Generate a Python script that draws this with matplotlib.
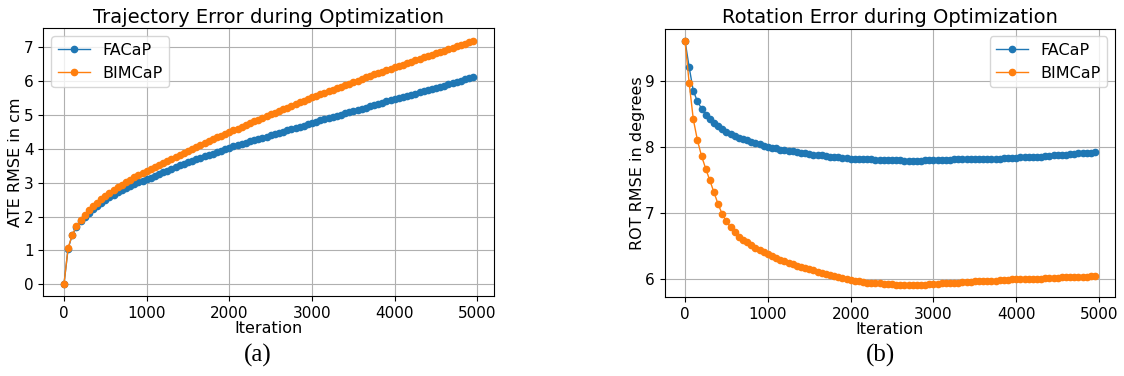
import numpy as np
import matplotlib
matplotlib.use("Agg")
import matplotlib.pyplot as plt
from matplotlib.ticker import MultipleLocator

# iteration axis: one sample every 50 iterations
iterations = np.arange(0, 5000, 50)

# ATE RMSE in cm
ate_facap = [
    0.00, 1.05, 1.45, 1.68, 1.87, 2.00, 2.11, 2.22, 2.32, 2.41,
    2.50, 2.58, 2.65, 2.72, 2.79, 2.85, 2.91, 2.96, 3.01, 3.06,
    3.10, 3.15, 3.21, 3.26, 3.31, 3.36, 3.41, 3.46, 3.51, 3.55,
    3.60, 3.64, 3.69, 3.73, 3.78, 3.82, 3.86, 3.91, 3.95, 3.99,
    4.03, 4.07, 4.11, 4.14, 4.18, 4.22, 4.25, 4.29, 4.33, 4.36,
    4.40, 4.44, 4.47, 4.51, 4.55, 4.58, 4.62, 4.66, 4.69, 4.73,
    4.77, 4.80, 4.84, 4.87, 4.91, 4.94, 4.98, 5.01, 5.05, 5.08,
    5.12, 5.15, 5.19, 5.22, 5.26, 5.29, 5.33, 5.36, 5.40, 5.43,
    5.47, 5.50, 5.53, 5.57, 5.60, 5.63, 5.67, 5.70, 5.73, 5.77,
    5.80, 5.84, 5.87, 5.91, 5.94, 5.98, 6.01, 6.05, 6.08, 6.12,
]
ate_bimcap = [
    0.00, 1.07, 1.46, 1.71, 1.90, 2.05, 2.18, 2.30, 2.41, 2.52,
    2.62, 2.71, 2.79, 2.87, 2.94, 3.02, 3.09, 3.16, 3.22, 3.29,
    3.35, 3.41, 3.47, 3.53, 3.59, 3.65, 3.71, 3.77, 3.83, 3.89,
    3.95, 4.01, 4.06, 4.12, 4.17, 4.23, 4.28, 4.34, 4.39, 4.45,
    4.50, 4.55, 4.60, 4.66, 4.71, 4.76, 4.81, 4.86, 4.92, 4.97,
    5.02, 5.07, 5.12, 5.17, 5.22, 5.27, 5.32, 5.37, 5.42, 5.47,
    5.52, 5.57, 5.61, 5.66, 5.70, 5.75, 5.80, 5.84, 5.89, 5.93,
    5.98, 6.02, 6.07, 6.11, 6.15, 6.20, 6.24, 6.28, 6.32, 6.37,
    6.41, 6.45, 6.49, 6.53, 6.57, 6.62, 6.66, 6.70, 6.74, 6.78,
    6.82, 6.86, 6.90, 6.95, 6.99, 7.03, 7.07, 7.11, 7.16, 7.20,
]

# rotation RMSE in degrees
rot_facap = [
    9.61, 9.21, 8.85, 8.69, 8.58, 8.49, 8.42, 8.36, 8.31, 8.27,
    8.23, 8.20, 8.17, 8.14, 8.12, 8.10, 8.08, 8.06, 8.04, 8.02,
    8.00, 7.99, 7.98, 7.96, 7.95, 7.94, 7.93, 7.92, 7.91, 7.90,
    7.89, 7.88, 7.87, 7.87, 7.86, 7.85, 7.85, 7.84, 7.83, 7.83,
    7.82, 7.82, 7.81, 7.81, 7.81, 7.81, 7.80, 7.80, 7.80, 7.80,
    7.80, 7.80, 7.80, 7.79, 7.79, 7.79, 7.79, 7.79, 7.80, 7.80,
    7.80, 7.80, 7.80, 7.80, 7.80, 7.81, 7.81, 7.81, 7.81, 7.81,
    7.81, 7.81, 7.82, 7.82, 7.82, 7.82, 7.82, 7.83, 7.83, 7.83,
    7.83, 7.84, 7.84, 7.84, 7.85, 7.85, 7.85, 7.86, 7.86, 7.87,
    7.87, 7.88, 7.88, 7.89, 7.89, 7.90, 7.90, 7.91, 7.91, 7.92,
]
rot_bimcap = [
    9.61, 8.97, 8.42, 8.10, 7.86, 7.67, 7.49, 7.31, 7.13, 6.98,
    6.87, 6.78, 6.71, 6.64, 6.59, 6.55, 6.51, 6.47, 6.44, 6.40,
    6.37, 6.34, 6.32, 6.29, 6.27, 6.24, 6.22, 6.20, 6.18, 6.17,
    6.15, 6.13, 6.11, 6.09, 6.07, 6.05, 6.04, 6.02, 6.01, 5.99,
    5.98, 5.97, 5.96, 5.95, 5.94, 5.94, 5.93, 5.93, 5.92, 5.92,
    5.92, 5.91, 5.91, 5.91, 5.91, 5.91, 5.91, 5.91, 5.91, 5.92,
    5.92, 5.92, 5.93, 5.93, 5.93, 5.94, 5.94, 5.95, 5.95, 5.95,
    5.96, 5.96, 5.96, 5.97, 5.97, 5.97, 5.98, 5.98, 5.98, 5.99,
    5.99, 5.99, 6.00, 6.00, 6.00, 6.00, 6.00, 6.01, 6.01, 6.01,
    6.01, 6.02, 6.02, 6.02, 6.03, 6.03, 6.03, 6.03, 6.04, 6.04,
]

TICK_FS = 11
LABEL_FS = 11.5
TITLE_FS = 14
MS = 4.5

fig = plt.figure(figsize=(11.24, 3.76), dpi=100)
ax1 = fig.add_axes([0.0387, 0.2117, 0.4006, 0.7128])
ax2 = fig.add_axes([0.5912, 0.2104, 0.4012, 0.7138])

# (a) trajectory error
ax1.plot(iterations, ate_facap, marker='o', markersize=MS, linewidth=1, label='FACaP')
ax1.plot(iterations, ate_bimcap, marker='o', markersize=MS, linewidth=1, label='BIMCaP')
ax1.set_title('Trajectory Error during Optimization', fontsize=TITLE_FS, pad=4)
ax1.set_xlabel('Iteration', fontsize=LABEL_FS, labelpad=0)
ax1.set_ylabel('ATE RMSE in cm', fontsize=LABEL_FS, labelpad=0.5)
ax1.yaxis.set_major_locator(MultipleLocator(1))
ax1.legend(loc='upper left', fontsize=LABEL_FS)
ax1.grid(True)
ax1.tick_params(labelsize=TICK_FS)

# (b) rotation error
ax2.plot(iterations, rot_facap, marker='o', markersize=MS, linewidth=1, label='FACaP')
ax2.plot(iterations, rot_bimcap, marker='o', markersize=MS, linewidth=1, label='BIMCaP')
ax2.set_title('Rotation Error during Optimization', fontsize=TITLE_FS, pad=4)
ax2.set_xlabel('Iteration', fontsize=LABEL_FS, labelpad=0)
ax2.set_ylabel('ROT RMSE in degrees', fontsize=LABEL_FS, labelpad=0)
ax2.legend(loc='upper right', fontsize=LABEL_FS)
ax2.grid(True)
ax2.tick_params(labelsize=TICK_FS)

# sub-figure captions
fig.text(0.229, 0.054, '(a)', fontsize=18, family='Liberation Serif', ha='center', va='center')
fig.text(0.783, 0.054, '(b)', fontsize=18, family='Liberation Serif', ha='center', va='center')

fig.savefig('out.png', dpi=100)
